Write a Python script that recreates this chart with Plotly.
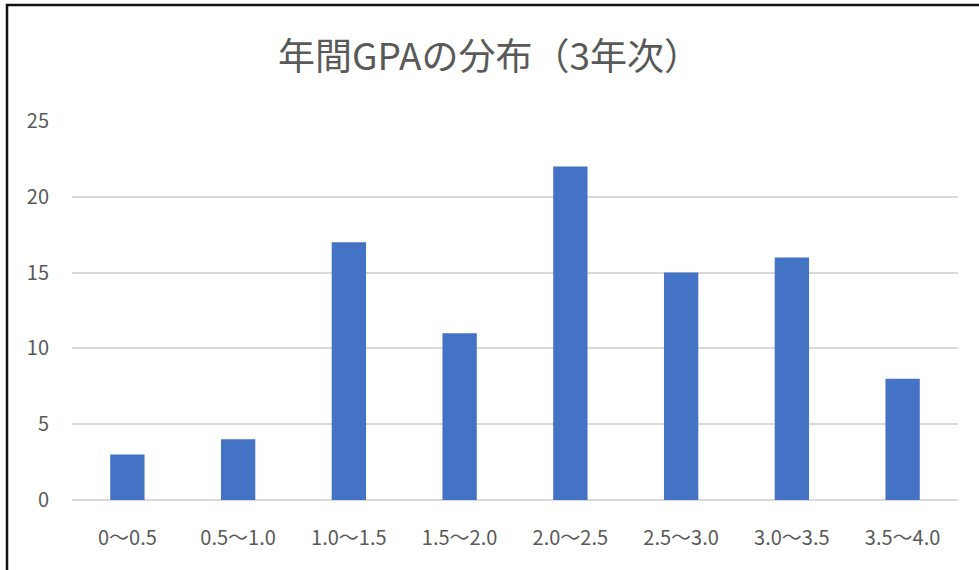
import plotly.graph_objects as go

categories = ["0～0.5", "0.5～1.0", "1.0～1.5", "1.5～2.0", "2.0～2.5", "2.5～3.0", "3.0～3.5", "3.5～4.0"]
counts = [3, 4, 17, 11, 22, 15, 16, 8]
y_ticks = [0, 5, 10, 15, 20, 25]
title_text = "年間GPAの分布（3年次）"

W, H = 979, 570
L, R, T, B = 72, 21, 121, 70
pw, ph = W - L - R, H - T - B

font_family = "Noto Sans CJK JP, Noto Sans, sans-serif"

fig = go.Figure(go.Bar(
    x=categories, y=counts,
    marker=dict(color="#4472C4", line=dict(width=0)),
))

fig.update_layout(
    width=W, height=H,
    margin=dict(l=L, r=R, t=T, b=B),
    paper_bgcolor="white", plot_bgcolor="white",
    bargap=0.69,
    showlegend=False,
    font=dict(family=font_family, color="#595959"),
    title=dict(text=title_text, x=0.5, xanchor="center", y=1 - 57 / H, yanchor="middle",
               font=dict(size=37, color="#595959", family=font_family)),
    shapes=[dict(type="rect", xref="paper", yref="paper",
                 x0=(7 - L) / pw, x1=(W + 50 - L) / pw,
                 y0=(H - B - 5) / ph, y1=-(B + 50) / ph,
                 line=dict(color="#111111", width=2.5), fillcolor="rgba(0,0,0,0)", layer="above")],
)
fig.update_xaxes(showgrid=False, showline=False, zeroline=False, ticks="",
                 tickfont=dict(size=20, color="#595959"), ticklabelstandoff=24)
fig.update_yaxes(range=[0, 25], tickvals=y_ticks, showgrid=True, gridcolor="#D9D9D9", gridwidth=1.5,
                 zeroline=True, zerolinecolor="#D9D9D9", zerolinewidth=1.5, showline=False, ticks="",
                 tickfont=dict(size=20, color="#595959"), ticklabelstandoff=22)

fig.write_html("out.html", config={"displayModeBar": False},
               post_script="document.body.style.margin='0';document.body.style.overflow='hidden';")
